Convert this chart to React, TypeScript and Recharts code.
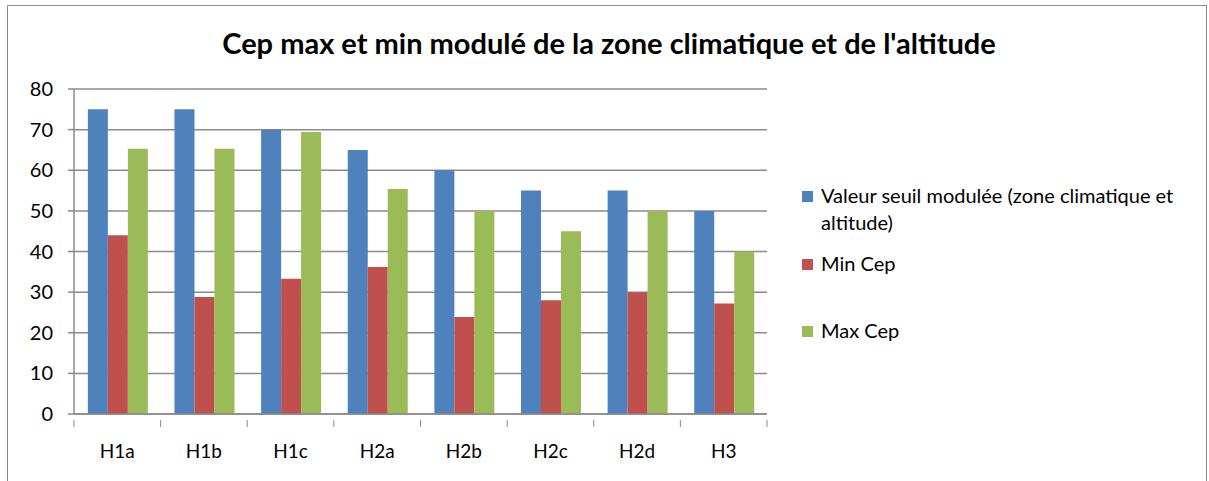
import { BarChart, Bar, XAxis, YAxis, CartesianGrid } from "recharts";

const zones = ["H1a", "H1b", "H1c", "H2a", "H2b", "H2c", "H2d", "H3"];
const seuilModule = [75, 75, 70, 65, 60, 55, 55, 50];
const minCep = [44, 28.8, 33.3, 36.2, 23.9, 28, 30, 27.2];
const maxCep = [65.3, 65.3, 69.4, 55.4, 50, 45, 50, 40];
const yTicks = [0, 10, 20, 30, 40, 50, 60, 70, 80];

const series = [
  { key: "seuil", name: "Valeur seuil modulée (zone climatique et altitude)", color: "#4F81BD" },
  { key: "min", name: "Min Cep", color: "#C0504D" },
  { key: "max", name: "Max Cep", color: "#9BBB59" },
];

const data = zones.map((z, i) => ({
  zone: z,
  seuil: seuilModule[i],
  min: minCep[i],
  max: maxCep[i],
}));

const FONT = "Lato, 'Open Sans', sans-serif";
const GRID = "#8a8a8a";
const PLOT_LEFT = 74;
const PLOT_RIGHT = 767;
const BAND = (PLOT_RIGHT - PLOT_LEFT) / zones.length;

// label au centre + petit trait aux limites de catégorie
const XTick = (props: any) => {
  const { x, y, payload, index } = props;
  const left = x - BAND / 2;
  return (
    <g>
      <line x1={left} y1={y - 2} x2={left} y2={y + 5} stroke={GRID} />
      {index === zones.length - 1 && (
        <line x1={x + BAND / 2} y1={y - 2} x2={x + BAND / 2} y2={y + 5} stroke={GRID} />
      )}
      <text x={x} y={y + 36} textAnchor="middle" fill="#000" fontSize={19} fontFamily={FONT}>
        {payload.value}
      </text>
    </g>
  );
};

export default function App() {
  return (
    <div
      style={{
        position: "absolute",
        left: 0,
        top: 0,
        width: 1209,
        height: 481,
        overflow: "hidden",
        background: "#fff",
        fontFamily: FONT,
      }}
    >
      <div
        style={{
          position: "absolute",
          left: 7,
          top: 5,
          width: 1198,
          height: 520,
          border: "1px solid #8a8a8a",
        }}
      />
      <div
        style={{
          position: "absolute",
          left: 0,
          width: 1218,
          top: 25,
          textAlign: "center",
          fontSize: 29,
          fontWeight: 700,
          color: "#000",
        }}
      >
        Cep max et min modulé de la zone climatique et de l'altitude
      </div>
      <div style={{ position: "absolute", left: 0, top: 0 }}>
        <BarChart
          width={1209}
          height={481}
          data={data}
          margin={{ top: 89, right: 1209 - PLOT_RIGHT, bottom: 27, left: 0 }}
          barGap={0}
          barCategoryGap="16%"
        >
          <CartesianGrid vertical={false} stroke={GRID} strokeWidth={1.5} />
          <XAxis
            dataKey="zone"
            height={40}
            stroke={GRID}
            strokeWidth={1.5}
            tickLine={false}
            tick={<XTick />}
            interval={0}
          />
          <YAxis
            width={PLOT_LEFT}
            domain={[0, 80]}
            ticks={yTicks}
            stroke={GRID}
            strokeWidth={1.5}
            tickSize={6}
            tickMargin={15}
            tick={{ fill: "#000", fontSize: 20, fontFamily: FONT }}
          />
          {series.map((s) => (
            <Bar key={s.key} dataKey={s.key} name={s.name} fill={s.color} isAnimationActive={false} />
          ))}
        </BarChart>
      </div>
      <div
        style={{
          position: "absolute",
          left: 802,
          top: 182,
          width: 395,
          fontSize: 20,
          color: "#000",
          lineHeight: "27px",
        }}
      >
        {series.map((s, i) => (
          <div
            key={s.key}
            style={{
              display: "flex",
              alignItems: "flex-start",
              marginBottom: i === 0 ? 14 : 40,
            }}
          >
            <span
              style={{
                display: "inline-block",
                width: 11,
                height: 11,
                background: s.color,
                marginTop: 9,
                marginRight: 8,
                flexShrink: 0,
              }}
            />
            <span>{s.name}</span>
          </div>
        ))}
      </div>
    </div>
  );
}
